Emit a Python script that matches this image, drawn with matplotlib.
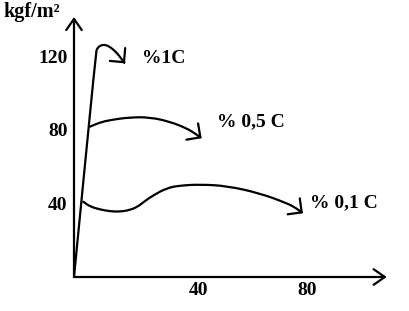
import matplotlib
matplotlib.use("Agg")
from matplotlib import pyplot as plt
from matplotlib.path import Path
from matplotlib.patches import PathPatch

# curve points (strain, stress in kgf/m2)
c1_x = [0, 7.55, 7.9, 8.58, 9.61, 10.99, 12.36, 14.08, 15.45, 16.82, 17.51]
c1_y = [0, 122.3, 123.9, 125.3, 126.1, 126.1, 125.0, 122.8, 120.4, 117.4, 116.1]

c05_x = [5.49, 8.93, 12.36, 19.23, 26.09, 32.96, 38.70, 41.55, 43.85]
c05_y = [81.7, 84.0, 85.3, 86.8, 86.8, 84.4, 80.8, 78.0, 75.4]

c01_x = [3.19, 5.49, 8.93, 12.36, 15.79, 19.23, 21.97, 24.38, 27.12, 31.93,
         36.39, 43.26, 52.53, 63.86, 73.13, 76.22, 78.63]
c01_y = [40.9, 38.3, 36.7, 35.7, 35.5, 36.4, 38.3, 41.3, 44.3, 48.4,
         49.7, 50.3, 49.5, 45.5, 40.1, 37.5, 34.6]

labels = ["%1C", "% 0,5 C", "% 0,1 C"]
label_pos = [(23.3, 119.0), (49.1, 84.2), (81.0, 40.2)]

xtick_pos = [42.9, 80]
xtick_labels = ["40", "80"]
ytick_pos = [40, 80, 120]
ytick_labels = ["40", "80", "120"]

plt.rcParams["font.family"] = ["Liberation Serif", "DejaVu Serif"]
plt.rcParams["font.weight"] = "bold"


def smooth_path(xs, ys):
    # quadratic bezier through midpoints, points act as control points
    pts = list(zip(xs, ys))
    mid = lambda a, b: ((a[0] + b[0]) / 2, (a[1] + b[1]) / 2)
    verts = [pts[0], mid(pts[0], pts[1])]
    codes = [Path.MOVETO, Path.LINETO]
    for i in range(1, len(pts) - 1):
        verts += [pts[i], mid(pts[i], pts[i + 1])]
        codes += [Path.CURVE3, Path.CURVE3]
    return Path(verts, codes), mid(pts[-2], pts[-1])


fig = plt.figure(figsize=(4.09, 3.11), dpi=100)
ax = fig.add_axes([74 / 409, 34 / 311, 312.7 / 409, 260 / 311])
ax.set_xlim(0, 107.4)
ax.set_ylim(0, 141.3)
for s in ax.spines.values():
    s.set_visible(False)

lw = 1.6
for xs, ys in [(c1_x, c1_y), (c05_x, c05_y), (c01_x, c01_y)]:
    path, start = smooth_path(xs, ys)
    ax.add_patch(PathPatch(path, fill=False, edgecolor="black", lw=lw,
                           capstyle="round", joinstyle="round", clip_on=False))
    # last bit carries the open arrowhead
    ax.annotate("", xy=(xs[-1], ys[-1]), xytext=start,
                arrowprops=dict(arrowstyle="->,head_length=0.4,head_width=0.4",
                                lw=lw, color="black", shrinkA=0, shrinkB=0,
                                mutation_scale=18))

for txt, (lx, ly) in zip(labels, label_pos):
    ax.text(lx, ly, txt, fontsize=14, fontweight="bold", va="center", ha="left")

# axes drawn as arrows
arrow_kw = dict(arrowstyle="->,head_length=0.5,head_width=0.35", lw=lw,
                color="black", shrinkA=0, shrinkB=0, mutation_scale=16)
ax.annotate("", xy=(1, 0), xytext=(0, 0), xycoords="axes fraction",
            arrowprops=arrow_kw, annotation_clip=False)
ax.annotate("", xy=(0, 1), xytext=(0, 0), xycoords="axes fraction",
            arrowprops=arrow_kw, annotation_clip=False)

ax.set_xticks(xtick_pos)
ax.set_xticklabels(xtick_labels)
ax.set_yticks(ytick_pos)
ax.set_yticklabels(ytick_labels)
ax.tick_params(axis="both", length=0, labelsize=14)
ax.tick_params(axis="x", pad=3.5)
ax.tick_params(axis="y", pad=4.5)
for t in ax.get_xticklabels() + ax.get_yticklabels():
    t.set_fontweight("bold")

fig.text(3 / 409, 1 - 17 / 311, "kgf/m²", fontsize=14.5, fontweight="bold",
         va="baseline", ha="left")

fig.savefig("out.png", dpi=100)
